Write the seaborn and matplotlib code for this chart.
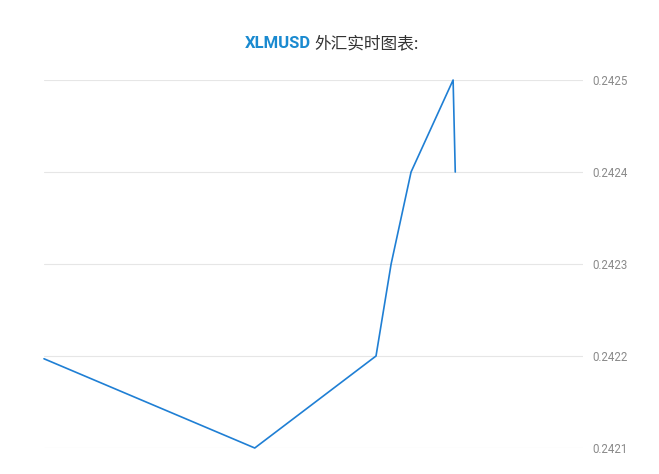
import matplotlib
matplotlib.use("Agg")
import matplotlib.pyplot as plt
import seaborn as sns
import pandas as pd

# price points (x = time position, 0..100 across the plot)
times = [0, 39.1, 61.6, 64.4, 68.1, 75.9, 76.3]
prices = [0.242197, 0.24210, 0.24220, 0.24230, 0.24240, 0.24250, 0.24240]
yticks = [0.2421, 0.2422, 0.2423, 0.2424, 0.2425]

df = pd.DataFrame({"t": times, "price": prices})

sns.set_style("white")
plt.rcParams['font.family'] = ['Roboto', 'Noto Sans CJK SC', 'DejaVu Sans']

fig = plt.figure(figsize=(6.59, 4.74), dpi=100)
ax = fig.add_axes([44 / 659, 26 / 474, 539 / 659, 368 / 474])

sns.lineplot(data=df, x="t", y="price", ax=ax, color="#1f7fd4",
             linewidth=1.2, sort=False, clip_on=False)

ax.set_xlim(0, 100)
ax.set_ylim(0.2421, 0.2425)
ax.set_yticks(yticks)
ax.set_yticklabels([f"{v:.4f}" for v in yticks])
ax.yaxis.tick_right()
ax.tick_params(axis="y", length=0, pad=7, labelsize=8.3, labelcolor="#8a8a8a")
ax.set_xticks([])
ax.set_xlabel("")
ax.set_ylabel("")
ax.grid(axis="y", color="#e6e6e6", linewidth=0.8)
for s in ax.spines.values():
    s.set_visible(False)

fig.text(311 / 659, 1 - 44 / 474, "XLMUSD", ha="right", va="center",
         fontsize=12, fontweight="bold", color="#1a8ad0",
         family=['Roboto', 'DejaVu Sans'])
fig.text(314 / 659, 1 - 44 / 474, "外汇实时图表:", ha="left", va="center",
         fontsize=12, color="#333333",
         family=['Noto Sans CJK SC', 'DejaVu Sans'])

fig.savefig("out.png", dpi=100)
